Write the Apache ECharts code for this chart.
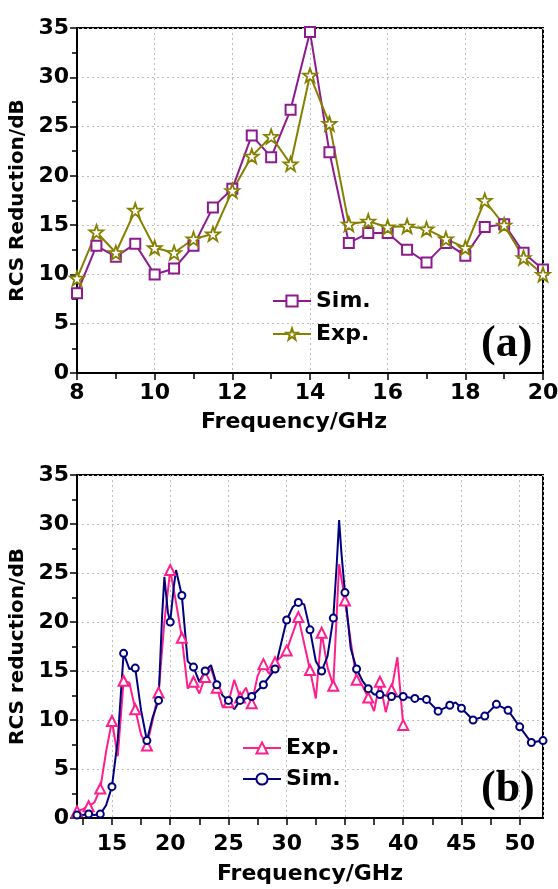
<!DOCTYPE html>
<html>
<head>
<meta charset="utf-8">
<script src="https://cdn.jsdelivr.net/npm/echarts@6/dist/echarts.min.js"></script>
<style>html,body{margin:0;padding:0;background:#fff}#c{width:558px;height:889px}</style>
</head>
<body>
<div id="c"></div>
<script>
// ---- Panel (a) data ----
var freqA = [8, 8.5, 9, 9.5, 10, 10.5, 11, 11.5, 12, 12.5, 13, 13.5, 14, 14.5, 15, 15.5, 16, 16.5, 17, 17.5, 18, 18.5, 19, 19.5, 20];
var simA = [8.1, 12.9, 11.8, 13.1, 10.0, 10.6, 12.9, 16.8, 18.7, 24.1, 21.9, 26.7, 34.6, 22.4, 13.2, 14.2, 14.2, 12.5, 11.2, 13.2, 11.9, 14.8, 15.1, 12.2, 10.5];
var expA = [9.6, 14.3, 12.2, 16.5, 12.7, 12.2, 13.6, 14.1, 18.5, 22.0, 24.0, 21.2, 30.2, 25.3, 15.1, 15.4, 14.8, 14.9, 14.6, 13.6, 12.7, 17.5, 15.0, 11.7, 10.0];

// ---- Panel (b) data ----
var freqSimB = [12, 12.5, 13, 13.5, 14, 14.5, 15, 15.5, 16, 16.5, 17, 17.5, 18, 18.5, 19, 19.3, 19.5, 19.8, 20, 20.3, 20.5, 21, 21.5, 22, 22.5, 23, 23.5, 24, 24.5, 25, 25.5, 26, 27, 28, 29, 30, 30.5, 31, 31.5, 32, 32.5, 33, 33.5, 34, 34.3, 34.5, 34.7, 35, 35.5, 36, 36.5, 37, 37.5, 38, 39, 40, 41, 42, 43, 44, 44.5, 45, 46, 47, 48, 49, 50, 51, 52];
var simB = [0.3, 0.3, 0.4, 0.3, 0.4, 1.3, 3.2, 8.0, 16.8, 15.2, 15.3, 11.0, 7.9, 10.3, 12.0, 20.5, 24.6, 21.0, 20.0, 23.5, 25.3, 22.7, 16.0, 15.4, 13.9, 15.0, 15.6, 13.6, 12.5, 12.0, 11.1, 12.0, 12.4, 13.6, 15.2, 20.2, 21.5, 22.0, 21.8, 19.2, 16.0, 15.0, 16.5, 20.4, 26.0, 30.4, 27.0, 23.0, 17.3, 15.2, 14.0, 13.2, 12.6, 12.6, 12.4, 12.4, 12.2, 12.1, 10.9, 11.5, 11.8, 11.2, 10.0, 10.4, 11.6, 11.0, 9.3, 7.7, 7.9];
var freqExpB = [12, 12.5, 13, 13.5, 14, 14.5, 15, 15.5, 16, 16.5, 17, 17.5, 18, 18.5, 19, 19.5, 20, 20.5, 21, 21.5, 22, 22.5, 23, 23.5, 24, 24.5, 25, 25.5, 26, 26.5, 27, 27.5, 28, 28.5, 29, 29.5, 30, 31, 31.5, 32, 32.5, 33, 33.5, 34, 34.5, 35, 35.5, 36, 36.5, 37, 37.5, 38, 38.5, 39, 39.5, 40];
var expB = [0.7, 0.9, 1.2, 1.6, 3.0, 6.8, 9.9, 6.3, 14.0, 13.8, 11.1, 8.5, 7.4, 10.0, 12.8, 20.0, 25.3, 22.0, 18.4, 13.2, 13.9, 12.7, 14.4, 15.3, 13.3, 11.3, 11.8, 14.1, 12.3, 13.3, 11.7, 14.5, 15.7, 14.7, 15.9, 16.4, 17.1, 20.5, 17.8, 15.1, 12.2, 18.9, 15.4, 13.5, 25.9, 22.2, 18.0, 14.1, 13.5, 12.3, 10.9, 13.9, 10.8, 13.1, 16.4, 9.5];

// tick labels
var yTicks = [0, 5, 10, 15, 20, 25, 30, 35];
var xTicksA = [8, 10, 12, 14, 16, 18, 20];
var xTicksB = [15, 20, 25, 30, 35, 40, 45, 50];
var xMinorB = [12.5, 15, 17.5, 20, 22.5, 25, 27.5, 30, 32.5, 35, 37.5, 40, 42.5, 45, 47.5, 50];

var cPurple = '#8E1B8E', cOlive = '#858000', cPink = '#FF1F8C', cNavy = '#00007F';
var FONT = 'DejaVu Sans';
var star = 'path://M0,-10 L2.35,-3.24 L9.51,-3.09 L3.8,1.24 L5.88,8.09 L0,4 L-5.88,8.09 L-3.8,1.24 L-9.51,-3.09 L-2.35,-3.24 Z';

function pairs(xs, ys) { return xs.map(function (x, i) { return [x, ys[i]]; }); }
function pairsMarked(xs, ys) {
  return xs.map(function (x, i) {
    var o = { value: [x, ys[i]] };
    if (Math.abs(x - Math.round(x)) > 1e-9) o.symbol = 'none';
    return o;
  });
}

var lbl = { color: '#000', fontFamily: FONT, fontWeight: 'bold', fontSize: 22 };
var xNameStyle = { color: '#000', fontFamily: FONT, fontWeight: 'bold', fontSize: 22 };
var yNameStyle = { color: '#000', fontFamily: FONT, fontWeight: 'bold', fontSize: 20 };
var axLine = { show: true, lineStyle: { color: '#000', width: 2 } };
var split = { show: true, lineStyle: { color: '#bdbdbd', type: [2, 3], width: 1 } };

function yAxis(gi, name) {
  return {
    gridIndex: gi, type: 'value', min: 0, max: 35, interval: 5,
    name: name, nameLocation: 'middle', nameGap: 32, nameTextStyle: yNameStyle,
    axisLine: axLine,
    axisTick: { show: true, length: 7, lineStyle: { color: '#000', width: 1.5 } },
    minorTick: { show: true, splitNumber: 2, length: 5, lineStyle: { color: '#000', width: 1.5 } },
    axisLabel: Object.assign({ margin: 8 }, lbl),
    splitLine: split
  };
}

var option = {
  animation: false,
  backgroundColor: '#fff',
  grid: [
    { left: 77, right: 15, top: 28, height: 345, show: true, borderColor: '#000', borderWidth: 2, backgroundColor: 'transparent', outerBoundsMode: 'none' },
    { left: 77, right: 15, top: 475, height: 343, show: true, borderColor: '#000', borderWidth: 2, backgroundColor: 'transparent', outerBoundsMode: 'none' }
  ],
  xAxis: [
    {
      gridIndex: 0, type: 'value', min: xTicksA[0], max: xTicksA[xTicksA.length - 1], interval: 2,
      name: 'Frequency/GHz', nameLocation: 'middle', nameGap: 38,
      nameTextStyle: Object.assign({ padding: [0, 32, 0, 0] }, xNameStyle),
      axisLine: axLine,
      axisTick: { show: true, length: 7, lineStyle: { color: '#000', width: 1.5 } },
      minorTick: { show: true, splitNumber: 2, length: 6, lineStyle: { color: '#000', width: 1.5 } },
      axisLabel: Object.assign({ margin: 9 }, lbl),
      splitLine: split
    },
    {
      gridIndex: 1, type: 'value', min: 12, max: 52, splitNumber: 8,
      name: 'Frequency/GHz', nameLocation: 'middle', nameGap: 45, nameTextStyle: xNameStyle,
      axisLine: axLine,
      axisTick: { show: true, length: 7, customValues: xMinorB, lineStyle: { color: '#000', width: 1.5 } },
      axisLabel: Object.assign({ margin: 15, customValues: xTicksB }, lbl),
      splitLine: { show: false }
    },
    {
      // helper axis only for the vertical grid lines of panel (b)
      gridIndex: 1, type: 'value', min: 12, max: 52, splitNumber: 8, position: 'bottom',
      axisLine: { show: false }, axisTick: { show: false }, axisLabel: { show: false },
      splitLine: split
    }
  ],
  yAxis: [yAxis(0, 'RCS Reduction/dB'), yAxis(1, 'RCS reduction/dB')],
  legend: [
    {
      orient: 'vertical', left: 272, top: 290, padding: 0, itemGap: 11, itemWidth: 38, itemHeight: 14,
      textStyle: { color: '#000', fontFamily: FONT, fontWeight: 'bold', fontSize: 22, lineHeight: 22 },
      data: ['Sim.', 'Exp.']
    },
    {
      orient: 'vertical', left: 242, top: 737, padding: 0, itemGap: 9, itemWidth: 38, itemHeight: 14,
      textStyle: { color: '#000', fontFamily: FONT, fontWeight: 'bold', fontSize: 22, lineHeight: 22 },
      data: ['Exp. ', 'Sim. ']
    }
  ],
  graphic: [
    { type: 'text', left: 481, top: 323, style: { text: '(a)', font: 'bold 44px "Liberation Serif"', fill: '#000' } },
    { type: 'text', left: 481, top: 768, style: { text: '(b)', font: 'bold 44px "Liberation Serif"', fill: '#000' } }
  ],
  series: [
    {
      name: 'Sim.', type: 'line', xAxisIndex: 0, yAxisIndex: 0, data: pairs(freqA, simA),
      symbol: 'emptyRect', symbolSize: 10,
      lineStyle: { color: cPurple, width: 2 }, itemStyle: { color: cPurple, borderColor: cPurple, borderWidth: 1.8 }
    },
    {
      name: 'Exp.', type: 'line', xAxisIndex: 0, yAxisIndex: 0, data: pairs(freqA, expA),
      symbol: star, symbolSize: 14,
      lineStyle: { color: cOlive, width: 2 }, itemStyle: { color: '#fff', borderColor: cOlive, borderWidth: 1.8 }
    },
    {
      name: 'Exp. ', type: 'line', xAxisIndex: 1, yAxisIndex: 1, data: pairsMarked(freqExpB, expB),
      symbol: 'emptyTriangle', symbolSize: 10,
      lineStyle: { color: cPink, width: 2 }, itemStyle: { color: cPink, borderColor: cPink, borderWidth: 1.3 }
    },
    {
      name: 'Sim. ', type: 'line', xAxisIndex: 1, yAxisIndex: 1, data: pairsMarked(freqSimB, simB),
      symbol: 'emptyCircle', symbolSize: 7,
      lineStyle: { color: cNavy, width: 2 }, itemStyle: { color: cNavy, borderColor: cNavy, borderWidth: 2 }
    }
  ]
};

var chart = echarts.init(document.getElementById('c'), null, { renderer: 'canvas' });
chart.setOption(option);
</script>
</body>
</html>
